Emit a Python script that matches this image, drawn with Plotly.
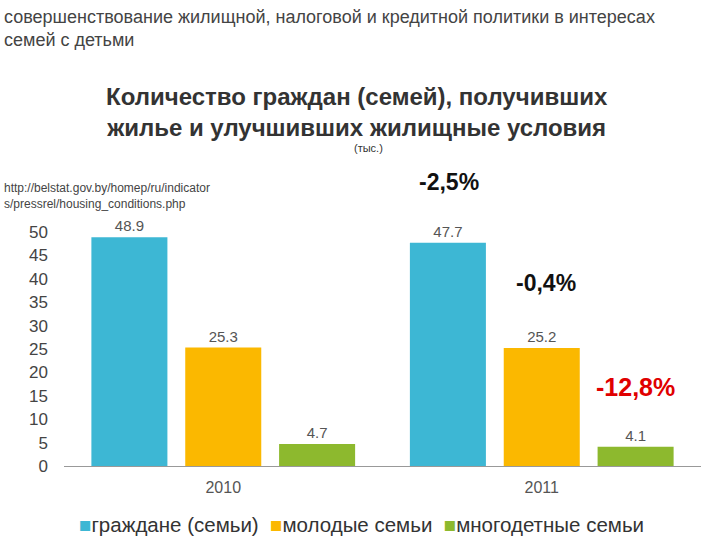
import plotly.graph_objects as go

years = ["2010", "2011"]
series_names = ["граждане (семьи)", "молодые семьи", "многодетные семьи"]
citizens = [48.9, 47.7]
young = [25.3, 25.2]
large = [4.7, 4.1]
colors = ["#3DB7D4", "#FBB800", "#8DB92E"]
changes = ["-2,5%", "-0,4%", "-12,8%"]
y_ticks = [0, 5, 10, 15, 20, 25, 30, 35, 40, 45, 50]

FONT = "Liberation Sans, Arial, sans-serif"

fig = go.Figure()
for name, vals, col in zip(series_names, [citizens, young, large], colors):
    fig.add_trace(go.Bar(
        x=years, y=vals, name=name, marker=dict(color=col, line=dict(width=0)),
        text=[f"{v:.1f}" for v in vals], textposition="outside",
        textfont=dict(size=15, color="#555555", family=FONT), cliponaxis=False,
        showlegend=False,
    ))

fig.update_layout(
    width=720, height=540,
    paper_bgcolor="white", plot_bgcolor="rgba(0,0,0,0)",
    margin=dict(l=63.5, r=18.5, t=232, b=74),
    barmode="group", bargap=0.116, bargroupgap=0.19,
    font=dict(family=FONT, color="#333333"),
    xaxis=dict(showline=True, linecolor="#999999", linewidth=1, showgrid=False,
               tickfont=dict(size=16, color="#555555"), ticklabelstandoff=7,
               automargin=False),
    yaxis=dict(range=[0, 50], tickvals=y_ticks, showgrid=False, zeroline=False,
               showline=False, tickfont=dict(size=17, color="#444444"),
               ticklabelstandoff=15, automargin=False),
    showlegend=False,
)

def ann(text, x, y, size, color, xanchor="center", yanchor="middle", align="center", bold=False):
    if bold:
        text = f"<b>{text}</b>"
    fig.add_annotation(text=text, xref="paper", yref="paper", x=x, y=y,
                       xanchor=xanchor, yanchor=yanchor, align=align, showarrow=False,
                       font=dict(size=size, color=color, family=FONT))

# top caption
ann("совершенствование жилищной, налоговой и кредитной политики в интересах<br>семей с детьми",
    -0.098, 1.970, 18, "#444444", xanchor="left", yanchor="top", align="left")
# title
ann("Количество граждан (семей), получивших<br>жилье и улучшивших жилищные условия",
    0.46, 1.5128, 24, "#333333", bold=True)
ann("(тыс.)", 0.4773, 1.359, 11, "#333333")
# source url
ann("http://belstat.gov.by/homep/ru/indicator<br>s/pressrel/housing_conditions.php",
    -0.098, 1.2265, 12, "#444444", xanchor="left", yanchor="top", align="left")
# change annotations
ann(changes[0], 0.6042, 1.2137, 23, "#111111", bold=True)
ann(changes[1], 0.7563, 0.782, 23, "#111111", bold=True)
ann(changes[2], 0.8973, 0.3376, 25, "#E00000", bold=True)

# legend (text-based)
legend_text = "&nbsp;&nbsp;".join(
    f"<span style='color:{c}'>■</span>{n}" for n, c in zip(series_names, colors)
)
ann(legend_text, 0.4671, -0.2521, 20.5, "#333333")

fig.write_html("out.html", config={"displayModeBar": False},
               post_script="document.body.style.margin='0';")
